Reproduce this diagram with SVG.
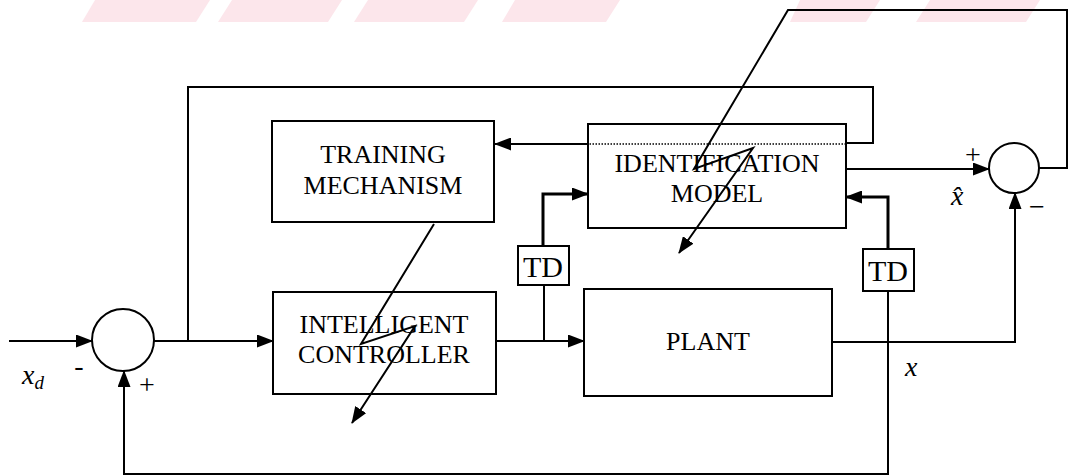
<svg xmlns="http://www.w3.org/2000/svg" width="1068" height="476" viewBox="0 0 1068 476">
<style>
.box{fill:#fff;stroke:#000;stroke-width:2}
.ln{fill:none;stroke:#000;stroke-width:2}
.thk{fill:none;stroke:#000;stroke-width:3}
.dot{fill:none;stroke:#000;stroke-width:1.5;stroke-dasharray:1.5 1.5}
.t{font-family:"Liberation Serif","Times New Roman",serif;font-size:26px;fill:#000;text-anchor:middle}
.td{font-family:"Liberation Serif","Times New Roman",serif;font-size:30px;fill:#000;text-anchor:middle}
.it{font-family:"Liberation Serif","Times New Roman",serif;font-style:italic;font-size:28px;fill:#000}
.s{font-family:"Liberation Serif","Times New Roman",serif;font-size:28px;fill:#000;text-anchor:middle}
.wm{fill:#fce6eb}
</style>
<defs>
<marker id="ah" markerUnits="userSpaceOnUse" markerWidth="17" markerHeight="13" refX="16" refY="6.5" orient="auto">
<path d="M0,0 L17,6.5 L0,13 Z" fill="#000"/>
</marker>
</defs>
<g id="watermark">
<polygon class="wm" points="95,0 210,0 196,22 82,22"/>
<polygon class="wm" points="232,0 342,0 328,22 218,22"/>
<polygon class="wm" points="368,0 478,0 464,22 354,22"/>
<polygon class="wm" points="515,0 620,0 606,22 502,22"/>
<polygon class="wm" points="800,0 880,0 866,22 790,22"/>
<polygon class="wm" points="930,0 1040,0 1026,22 916,22"/>
</g>
<g id="connectors">
<path class="ln" d="M9,341 H92" marker-end="url(#ah)"/>
<path class="ln" d="M154,341 H273" marker-end="url(#ah)"/>
<path class="ln" d="M188,341 V87 H873 V143 H846"/>
<path class="dot" d="M846,144 H588"/>
<path class="ln" d="M588,144 H495" marker-end="url(#ah)"/>
<path class="ln" d="M496,341 H584" marker-end="url(#ah)"/>
<path class="ln" d="M544,341 V285"/>
<path class="thk" d="M543,246 V194 H588" marker-end="url(#ah)"/>
<path class="ln" d="M846,169 H989" marker-end="url(#ah)"/>
<path class="ln" d="M1039,168 H1067 V10 H788 L694,169 L753,148 L679,253" marker-end="url(#ah)"/>
<path class="ln" d="M434,224 L361,344 L415,326 L352,423" marker-end="url(#ah)"/>
<path class="ln" d="M832,342 H1015 V193" marker-end="url(#ah)"/>
<path class="thk" d="M888,249 V197 H846" marker-end="url(#ah)"/>
<path class="ln" d="M888,291 V474 H124 V371" marker-end="url(#ah)"/>
</g>
<g id="sum1"><circle cx="123" cy="340" r="31" fill="none" stroke="#000" stroke-width="2"/></g>
<g id="sum2"><circle cx="1014" cy="168" r="25" fill="none" stroke="#000" stroke-width="2"/></g>
<g id="training">
<rect class="box" x="272" y="121" width="222" height="101" fill="none"/>
<text class="t" x="383" y="163">TRAINING</text>
<text class="t" x="383" y="194">MECHANISM</text>
</g>
<g id="identification">
<rect x="588" y="124" width="258" height="104" fill="none" stroke="#000" stroke-width="2"/>
<text class="t" x="717" y="172">IDENTIFICATION</text>
<text class="t" x="717" y="202">MODEL</text>
</g>
<g id="controller">
<rect x="273" y="292" width="223" height="102" fill="none" stroke="#000" stroke-width="2"/>
<text class="t" x="384" y="333">INTELLIGENT</text>
<text class="t" x="384" y="363">CONTROLLER</text>
</g>
<g id="plant">
<rect x="584" y="289" width="248" height="107" fill="none" stroke="#000" stroke-width="2"/>
<text class="t" x="708" y="350">PLANT</text>
</g>
<g id="td1">
<rect class="box" x="518" y="246" width="51" height="39"/>
<text class="td" x="543" y="277">TD</text>
</g>
<g id="td2">
<rect class="box" x="863" y="249" width="51" height="42"/>
<text class="td" x="888" y="281">TD</text>
</g>
<g id="labels">
<text class="it" x="22" y="384">x<tspan font-size="19" dy="5">d</tspan></text>
<text class="s" x="79" y="375">-</text>
<text class="s" x="147" y="394">+</text>
<text class="s" x="973" y="164">+</text>
<text class="s" x="1037" y="216">−</text>
<text class="it" x="951" y="205">x̂</text>
<text class="it" x="905" y="376">x</text>
</g>
</svg>
